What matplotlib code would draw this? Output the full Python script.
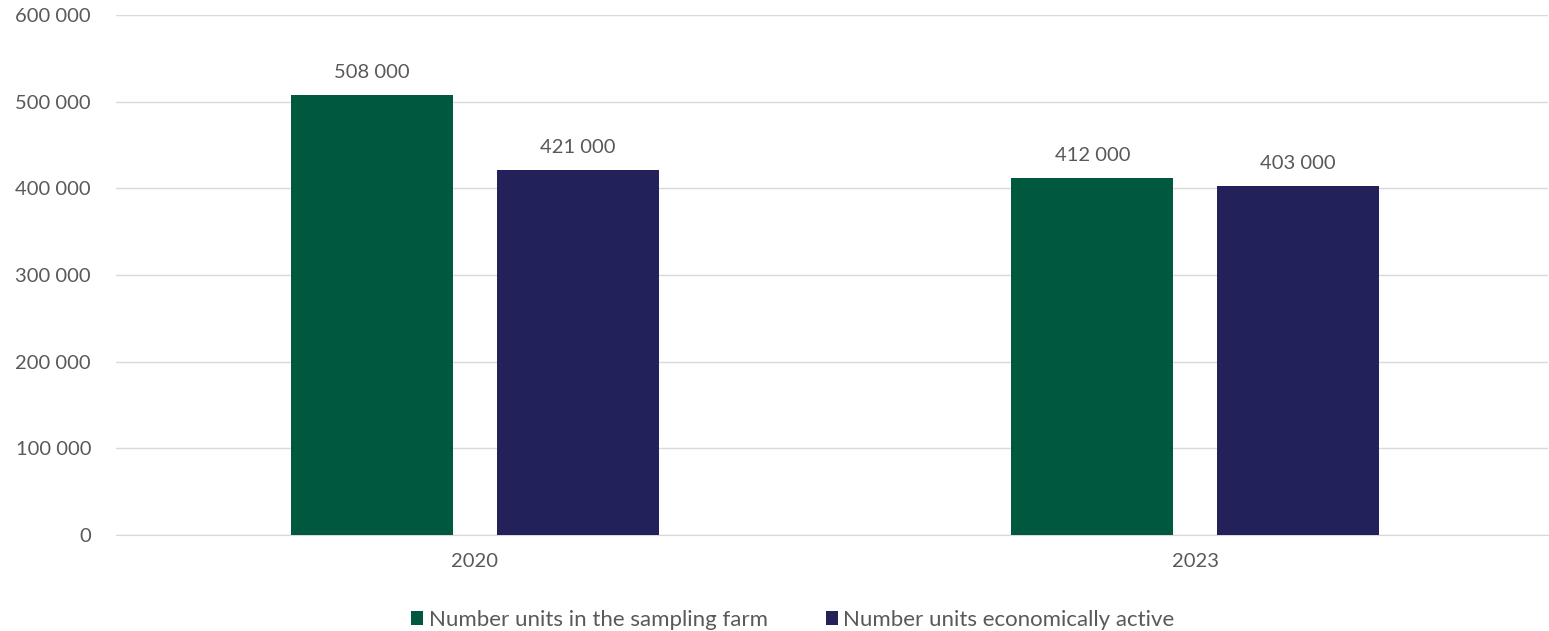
import numpy as np
import matplotlib.pyplot as plt

years = ["2020", "2023"]
sampling_farm = [508000, 412000]
econ_active = [421000, 403000]
series_labels = ["Number units in the sampling farm", "Number units economically active"]
colors = ["#00583F", "#22215A"]

plt.rcParams["font.family"] = ["Lato", "DejaVu Sans"]
text_color = "#595959"

fig = plt.figure(figsize=(15.49, 6.31), dpi=100)
ax = fig.add_axes([0.0749, 0.1521, 0.9245, 0.8241])

x = np.arange(len(years))
w = 0.225
off = 0.1427
b1 = ax.bar(x - off, sampling_farm, w, color=colors[0], label=series_labels[0], zorder=3)
b2 = ax.bar(x + off, econ_active, w, color=colors[1], label=series_labels[1], zorder=3)

for bars in (b1, b2):
    for r in bars:
        h = r.get_height()
        ax.annotate(f"{h:,.0f}".replace(",", " "), (r.get_x() + r.get_width() / 2, h),
                    xytext=(0, 10), textcoords="offset points", ha="center", va="bottom",
                    fontsize=14.5, color=text_color)

ax.set_xlim(-0.498, 1.490)
ax.set_ylim(0, 600000)
ax.set_yticks(np.arange(0, 600001, 100000))
ax.set_yticklabels([f"{v:,}".replace(",", " ") for v in range(0, 600001, 100000)])
ax.set_xticks(x)
ax.set_xticklabels(years)
ax.tick_params(axis="both", length=0, labelsize=14.5, labelcolor=text_color)
ax.tick_params(axis="y", pad=18)
ax.tick_params(axis="x", pad=13)
ax.grid(axis="y", color="#d9d9d9", lw=1, zorder=0)
for s in ["top", "right", "left"]:
    ax.spines[s].set_visible(False)
ax.spines["bottom"].set_color("#d9d9d9")

fig.legend(handles=[b1, b2], loc="center", bbox_to_anchor=(0.5119, 0.0174), ncol=2, frameon=False,
           fontsize=16, labelcolor=text_color, handlelength=0.55, handleheight=0.55,
           handletextpad=0.25, columnspacing=2.6)

fig.savefig("out.png", dpi=100)
